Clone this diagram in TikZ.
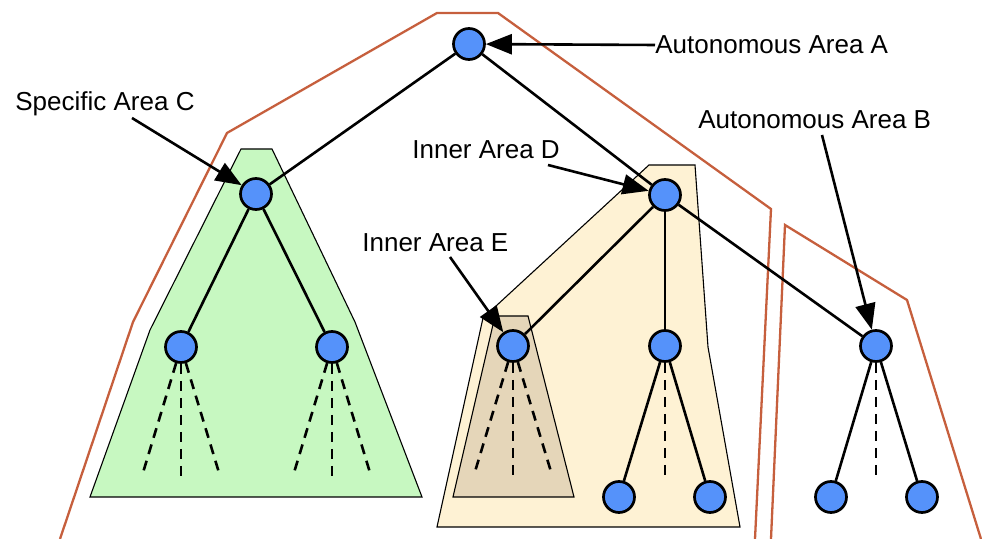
\documentclass[tikz,border=0pt]{standalone}
\usepackage{fontspec}
\setmainfont{Liberation Sans}
\usetikzlibrary{arrows.meta}
\definecolor{ink}      {HTML}{000000}
\definecolor{nodeblue} {HTML}{5592FA}
\definecolor{rust}     {HTML}{C65F3D}
\definecolor{mintfill} {HTML}{C7F8C1}
\definecolor{creamfill}{HTML}{FEF2D4}
\definecolor{tanfill}  {HTML}{E5D6B9}
\tikzset{
  % --- nodes
  nd/.style     = {circle, draw=ink, fill=nodeblue, line width=1.35pt,
                   minimum size=15.5pt, inner sep=0pt},
  lbl/.style    = {font=\fontsize{13}{15}\selectfont, inner sep=0pt},
  % --- areas
  region/.style = {draw=ink, line width=0.55pt},
  border/.style = {draw=rust, line width=1.15pt},
  % --- edges
  e/.style      = {line width=1.3pt, draw=ink},
  eds/.style    = {e, dash pattern=on 5pt off 3.5pt},
  ptr/.style    = {-{Triangle[length=13pt,width=10pt]}, line width=1.3pt},
}
\begin{document}
\begin{tikzpicture}[x=0.5pt,y=-0.5pt]
  \useasboundingbox (0,0) rectangle (982,539);

  % areas
  \fill[mintfill]  (241,149) -- (272,149) -- (355,322) -- (422,497) -- (90,497) -- (150,330) -- cycle;
  \draw[region]    (241,149) -- (272,149) -- (355,322) -- (422,497) -- (90,497) -- (150,330) -- cycle;
  \fill[creamfill] (649,165) -- (695,165) -- (708,347) -- (740,527) -- (437,527) -- (483,318) -- cycle;
  \draw[region]    (649,165) -- (695,165) -- (708,347) -- (740,527) -- (437,527) -- (483,318) -- cycle;
  \fill[tanfill]   (495,316) -- (528,316) -- (574,497) -- (453,497) -- cycle;
  \draw[region]    (495,316) -- (528,316) -- (574,497) -- (453,497) -- cycle;

  % autonomous area borders
  \draw[border] (60,539) -- (133,322) -- (227,133) -- (437,13) -- (498,13) -- (771,209) -- (755,539);
  \draw[border] (771,539) -- (785,225) -- (907,300) -- (981,539);

  % tree
  \node[nd] (aA) at (469,44) {};
  \node[nd] (cC) at (256,194) {};
  \node[nd] (cl) at (181,347) {};
  \node[nd] (cr) at (332,347) {};
  \node[nd] (dD) at (665,195) {};
  \node[nd] (eE) at (513,346) {};
  \node[nd] (dm) at (665,346) {};
  \node[nd] (dl) at (619,497) {};
  \node[nd] (dr) at (710,497) {};
  \node[nd] (bB) at (876,346) {};
  \node[nd] (bl) at (831,497) {};
  \node[nd] (br) at (922,497) {};

  \foreach \u/\v in {aA/cC, aA/dD, cC/cl, cC/cr, dD/eE, dD/dm, dD/bB,
                     dm/dl, dm/dr, bB/bl, bB/br}
    \draw[e] (\u) -- (\v);

  % unexpanded subtrees
  \foreach \nn in {cl,cr,eE}
  {
    \draw[eds] (\nn) -- ++(-39,129);
    \draw[eds] (\nn) -- ++(0,134);
    \draw[eds] (\nn) -- ++(39,129);
  }
  \draw[eds] (dm) -- ++(0,134);
  \draw[eds] (bB) -- ++(0,134);

  % labels
  \node[lbl, anchor=west] (lblA) at (655,45)  {Autonomous Area A};
  \node[lbl, anchor=west] (lblB) at (698,120) {Autonomous Area B};
  \node[lbl, anchor=west] (lblC) at (15,104)  {Specific Area C};
  \node[lbl, anchor=west] (lblD) at (412,150) {Inner Area D};
  \node[lbl, anchor=west] (lblE) at (362,243) {Inner Area E};

  \coordinate (pB) at (822,135);
  \coordinate (pC) at (132,118);
  \coordinate (pD) at (548,165);
  \coordinate (pE) at (450,257);

  \draw[ptr] (lblA.west) -- (aA);
  \draw[ptr] (pB) -- (bB);
  \draw[ptr] (pC) -- (cC);
  \draw[ptr] (pD) -- (dD);
  \draw[ptr] (pE) -- (eE);
\end{tikzpicture}
\end{document}
